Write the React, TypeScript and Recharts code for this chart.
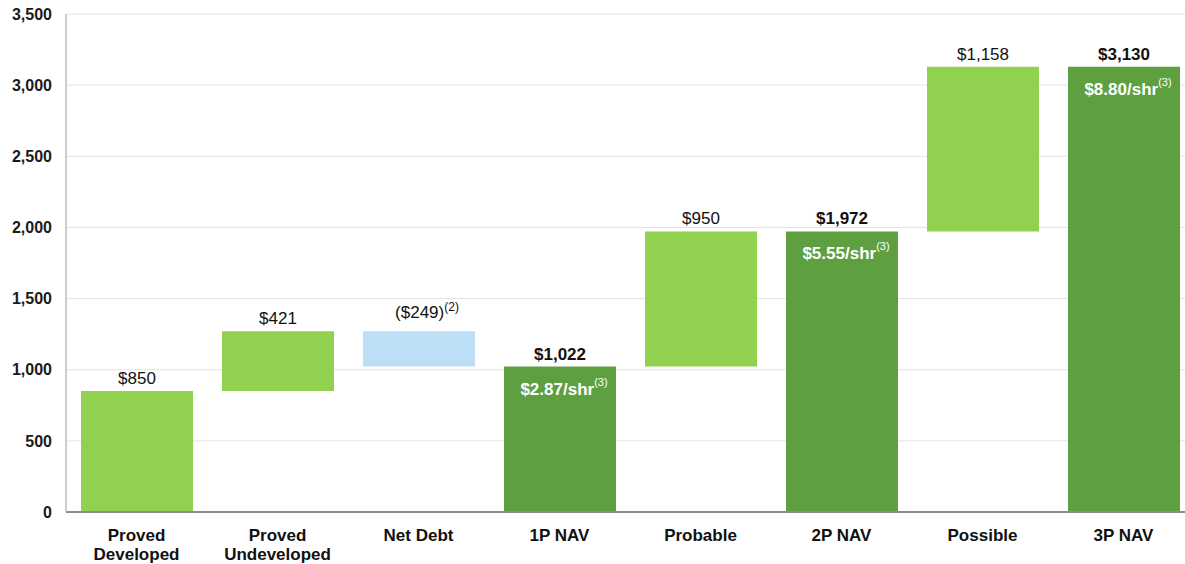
import React from 'react';
import { BarChart, Bar, XAxis, YAxis, CartesianGrid, Cell, LabelList } from 'recharts';

const categories = ['Proved Developed', 'Proved Undeveloped', 'Net Debt', '1P NAV', 'Probable', '2P NAV', 'Possible', '3P NAV'];
const baseValues = [0, 850, 1022, 0, 1022, 0, 1972, 0];
const stepValues = [850, 421, 249, 1022, 950, 1972, 1158, 3130];
const topLabels = ['$850', '$421', '($249)', '$1,022', '$950', '$1,972', '$1,158', '$3,130'];
const topNotes = ['', '', '(2)', '', '', '', '', ''];
const perShare = ['', '', '', '$2.87/shr', '', '$5.55/shr', '', '$8.80/shr'];
const yTicks = [0, 500, 1000, 1500, 2000, 2500, 3000, 3500];

const LIGHT = '#92D050';
const DARK = '#5EA03F';
const BLUE = '#BDDEF7';
const kinds = ['step', 'step', 'debt', 'total', 'step', 'total', 'step', 'total'];

const data = categories.map((name, i) => ({
  name,
  base: baseValues[i],
  value: stepValues[i],
  idx: i,
}));

const colorFor = (kind: string) => (kind === 'total' ? DARK : kind === 'debt' ? BLUE : LIGHT);

const FONT = '"Liberation Sans", Arial, sans-serif';

const TopLabel = (props: any) => {
  const vb = props.viewBox || props;
  const i = props.index;
  const cx = vb.x + vb.width / 2;
  const bold = kinds[i] === 'total';
  const note = topNotes[i];
  const y = vb.y - (note ? 13 : 7);
  return (
    <text x={cx + (note ? 8 : 0)} y={y} textAnchor="middle" fontFamily={FONT} fontSize={17} fill="#111" fontWeight={bold ? 700 : 400}>
      {topLabels[i]}
      {note ? <tspan fontSize={12} dy={-7}>{note}</tspan> : null}
    </text>
  );
};

const InsideLabel = (props: any) => {
  const vb = props.viewBox || props;
  const i = props.index;
  if (!perShare[i]) return null;
  const cx = vb.x + vb.width / 2;
  return (
    <text x={cx + 4} y={vb.y + 28} textAnchor="middle" fontFamily={FONT} fill="#fff">
      <tspan fontSize={17} fontWeight={700}>{perShare[i]}</tspan>
      <tspan fontSize={11} dy={-9}>(3)</tspan>
    </text>
  );
};

const XTick = (props: any) => {
  const { x, y, payload } = props;
  const name: string = payload.value;
  const lines = name.startsWith('Proved') ? name.split(' ') : [name];
  return (
    <text x={x} y={y + 21} textAnchor="middle" fontFamily={FONT} fontSize={17} fontWeight={700} fill="#111">
      {lines.map((l, k) => (
        <tspan key={k} x={x} dy={k === 0 ? 0 : 19}>{l}</tspan>
      ))}
    </text>
  );
};

const App = () => {
  return (
    <div style={{ position: 'absolute', left: 0, top: 0, width: 1185, height: 564, overflow: 'hidden', background: '#fff' }}>
      <BarChart width={1196} height={564} data={data} margin={{ top: 14, right: 2, left: 0, bottom: 0 }} barSize={112}>
        <CartesianGrid vertical={false} stroke="#e3e3e3" />
        <XAxis
          dataKey="name"
          tick={<XTick />}
          tickLine={false}
          height={52}
          axisLine={{ stroke: '#8c8c8c', strokeWidth: 2 }}
          interval={0}
        />
        <YAxis
          width={66}
          domain={[0, 3500]}
          ticks={yTicks}
          tickFormatter={(v: number) => v.toLocaleString('en-US')}
          tickLine={false}
          tickMargin={8}
          axisLine={{ stroke: '#bdbdbd', strokeWidth: 1.5 }}
          tick={{ fontFamily: FONT, fontSize: 16, fontWeight: 700, fill: '#1a1a1a' }}
        />
        <Bar dataKey="base" stackId="w" fill="transparent" isAnimationActive={false} />
        <Bar dataKey="value" stackId="w" isAnimationActive={false}>
          {data.map((d) => (
            <Cell key={d.name} fill={colorFor(kinds[d.idx])} />
          ))}
          <LabelList dataKey="value" content={<TopLabel />} />
          <LabelList dataKey="value" content={<InsideLabel />} />
        </Bar>
      </BarChart>
    </div>
  );
};

export default App;
